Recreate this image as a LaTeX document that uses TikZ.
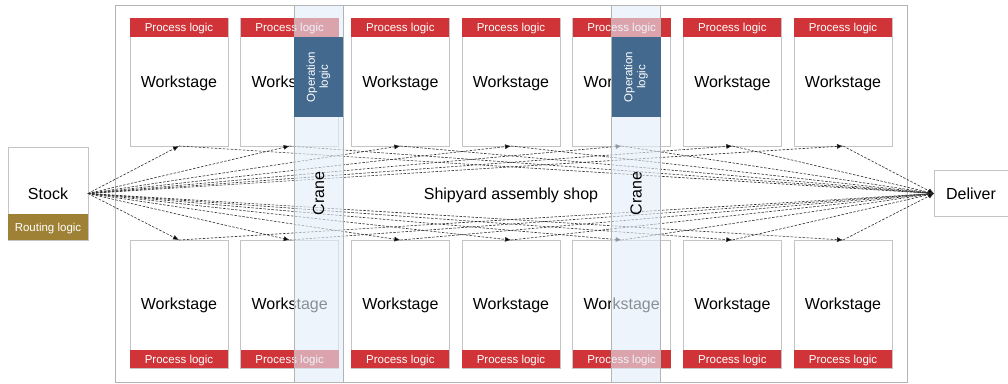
\documentclass[tikz,border=0pt]{standalone}
\usepackage{fontspec}
\setmainfont{Liberation Sans}
\usetikzlibrary{arrows.meta,positioning,calc}
\definecolor{frame}{HTML}{B4B4B4}
\definecolor{boxline}{HTML}{C4C4C4}
\definecolor{plred}{HTML}{D03438}
\definecolor{routebrown}{HTML}{9E8134}
\definecolor{opblue}{HTML}{43698F}
\definecolor{cranefill}{HTML}{E3EEF9}
\definecolor{flowline}{HTML}{2E2E2E}

\begin{document}
\begin{tikzpicture}[
  x=1pt,y=-1pt,>=Latex,
  every node/.append style={inner sep=0pt, outer sep=0pt},
  big/.style={font=\fontsize{16}{19}\selectfont, text depth=0pt},
  small/.style={font=\fontsize{11.5}{13}\selectfont, text=white},
  shop/.style={draw=frame, line width=0.8pt, fill=white, big, minimum width=792pt, minimum height=377pt},
  ws/.style={draw=boxline, line width=0.8pt, fill=white, big, minimum width=98pt, minimum height=128pt},
  plogic/.style={fill=plred, small, text depth=0pt, minimum width=98pt, minimum height=19pt},
  endbox/.style={draw=boxline, line width=0.8pt, fill=white, big},
  crane/.style={draw=frame, line width=0.8pt, fill=cranefill, fill opacity=0.6, text opacity=1, big,
    rotate=90, minimum width=377pt, minimum height=49pt},
  oplogic/.style={fill=opblue, small, align=center, rotate=90, minimum width=80pt, minimum height=49pt},
  flow/.style={->, draw=flowline, line width=0.6pt, dash pattern=on 2.5pt off 1.5pt,
    arrows={-Latex[length=6pt,width=5pt,fill=black]}},
]
\useasboundingbox (0,0) rectangle (1008,383);

% Assembly shop frame
\node[shop] (shop) at (511,193.5) {Shipyard assembly shop};

% Workstages, two rows of seven
\foreach \i in {1,...,7}{
  \pgfmathsetmacro{\cx}{179+(\i-1)*110.67}
  \node[ws] (ws-t-\i) at (\cx,82) {Workstage};
  \node[plogic, anchor=north] (pl-t-\i) at (ws-t-\i.north) {Process logic};
  \node[ws] (ws-b-\i) at (\cx,304) {Workstage};
  \node[plogic, anchor=south, minimum height=18pt] (pl-b-\i) at (ws-b-\i.south) {Process logic};
}

% Stock and delivery
\node[endbox, minimum width=80pt, minimum height=93pt] (stock) at (48,193.5) {Stock};
\node[fill=routebrown, small, text depth=0pt, minimum width=80pt, minimum height=26pt, anchor=south] (routing)
  at (stock.south) {Routing logic};
\node[endbox, minimum width=74pt, minimum height=46pt, anchor=west] (deliver) at (934,193.5) {Deliver};

% Material flow
\foreach \i in {1,...,7}{
  \draw[flow] (stock.east) -- (ws-t-\i.south);
  \draw[flow] (stock.east) -- (ws-b-\i.north);
  \draw[flow] (ws-t-\i.south) -- (deliver.west);
  \draw[flow] (ws-b-\i.north) -- (deliver.west);
}

% Cranes with their operation logic
\node[crane] (crane1) at (318.5,193.5) {Crane};
\node[crane] (crane2) at (636,193.5) {Crane};
\node[oplogic] (op1) at (318.5,77) {Operation\\logic};
\node[oplogic] (op2) at (636,77) {Operation\\logic};

\end{tikzpicture}
\end{document}
